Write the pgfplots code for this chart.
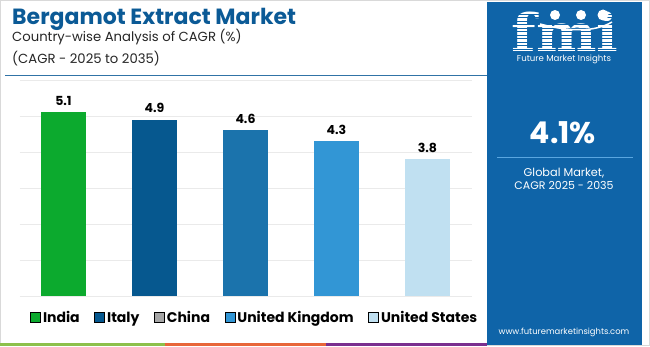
\documentclass[border=0pt]{standalone}
\usepackage{pgfplots}
\pgfplotsset{compat=1.18}
\usepackage{fontspec}
\setmainfont{Poppins}
\newfontfamily\logofont{DejaVu Serif}
\definecolor{titleblue}{RGB}{11,90,150}
\definecolor{cIndia}{RGB}{12,170,46}
\definecolor{cItaly}{RGB}{6,88,143}
\definecolor{cChina}{RGB}{27,115,172}
\definecolor{cUK}{RGB}{50,150,213}
\definecolor{cUS}{RGB}{192,224,241}
\definecolor{cGray}{RGB}{166,166,166}
\definecolor{panel}{RGB}{15,100,168}
\definecolor{panelline}{RGB}{90,166,224}
\definecolor{gridc}{RGB}{234,234,234}
\definecolor{sgreen}{RGB}{141,192,75}
\definecolor{sorange}{RGB}{232,102,58}
\definecolor{spurple}{RGB}{122,47,143}
\begin{document}
\begin{tikzpicture}[x=1pt,y=1pt]
\useasboundingbox (0,0) rectangle (650,346);
\fill[white] (0,0) rectangle (650,346);
\draw[gray!30, line width=0.6pt] (0.3,0.3) rectangle (649.7,345.7);
% title
\node[anchor=base west, inner sep=0, text=titleblue, font=\fontsize{22}{22}\selectfont\bfseries] at (12,321) {Bergamot Extract Market};
\node[anchor=base west, inner sep=0, text=black!85, font=\fontsize{13.2}{13}\selectfont] at (12,304.5) {Country-wise Analysis of CAGR (\%)};
\node[anchor=base west, inner sep=0, text=black!85, font=\fontsize{13.2}{13}\selectfont] at (12,282.7) {(CAGR - 2025 to 2035)};
\draw[titleblue!85, line width=1pt] (5,270.3) -- (487,270.3);
% bottom stripes
\fill[sgreen] (0,0) rectangle (165,3);
\fill[sorange] (165,0) rectangle (326,3);
\fill[spurple] (326,0) rectangle (487,3);
% right panel
\fill[panel] (487,1) rectangle (642,344);
\node[anchor=base, inner sep=0, text=white, xscale=1.1, font=\fontsize{52}{52}\selectfont\logofont\bfseries] at (565,294) {fmi};
\foreach \yy in {297,300.5,...,335} {\draw[panel, line width=0.9pt] (505,\yy) -- (625,\yy);}
\fill[white] (555,331) circle (5); \fill[white] (581,331) circle (5); \fill[white] (603,331) circle (5.5);
\draw[white, line width=1.5pt] (540,322) .. controls (570,314) and (595,314) .. (612,324);
\node[anchor=base, inner sep=0, text=white, font=\fontsize{8.6}{9}\selectfont] at (564,284) {Future Market Insights};
\node[anchor=base, inner sep=0, text=white, font=\fontsize{30}{30}\selectfont\bfseries] at (563,202.5) {4.1\%};
\draw[panelline, line width=1pt] (497,188.3) -- (633,188.3);
\node[anchor=base, inner sep=0, text=white, font=\fontsize{11.3}{11}\selectfont] at (564,169.5) {Global Market,};
\node[anchor=base, inner sep=0, text=white, font=\fontsize{11}{11}\selectfont] at (564,156.5) {CAGR 2025 - 2035};
\node[anchor=base, inner sep=0, text=white, font=\fontsize{8.4}{9}\selectfont] at (564,11.5) {www.futuremarketinsights.com};
% chart
\begin{axis}[
  at={(20pt,50pt)}, anchor=south west, scale only axis,
  width=452pt, height=216pt,
  xmin=-0.478, xmax=4.489, ymin=0, ymax=6,
  ytick={0,1,...,6}, yticklabels={}, xtick=\empty,
  ymajorgrids, grid style={gridc, line width=0.8pt},
  axis line style={draw=none}, major tick length=0pt,
  ybar, bar width=45pt, bar shift=0pt,
  /pgf/number format/assume math mode=true,
  nodes near coords,
  every node near coord/.append style={font=\fontsize{12.5}{12}\selectfont\bfseries, text=black, yshift=3pt},
  clip=false,
  legend columns=-1,
  legend style={at={(0.022,-0.102)}, anchor=west, draw=none, fill=none, inner sep=0pt,
    font=\fontsize{14}{14}\selectfont\bfseries,
    nodes={inner xsep=2.5pt, inner ysep=0pt},
    /tikz/every even column/.append style={column sep=12pt}},
  legend image code/.code={\fill[#1] (0pt,-4.5pt) rectangle (10pt,5.5pt);},
]
\addplot[fill=cIndia, draw=none, forget plot] coordinates {(0,5.1)};
\addplot[fill=cItaly, draw=none, forget plot] coordinates {(1,4.9)};
\addplot[fill=cChina, draw=none, forget plot] coordinates {(2,4.6)};
\addplot[fill=cUK, draw=none, forget plot] coordinates {(3,4.3)};
\addplot[fill=cUS, draw=none, forget plot] coordinates {(4,3.8)};
\addlegendimage{fill=cIndia}
\addlegendimage{fill=cItaly}
\addlegendimage{fill=cGray}
\addlegendimage{fill=cUK}
\addlegendimage{fill=cUS}
\legend{India,Italy,China,United Kingdom,United States}
\end{axis}
\end{tikzpicture}
\end{document}
